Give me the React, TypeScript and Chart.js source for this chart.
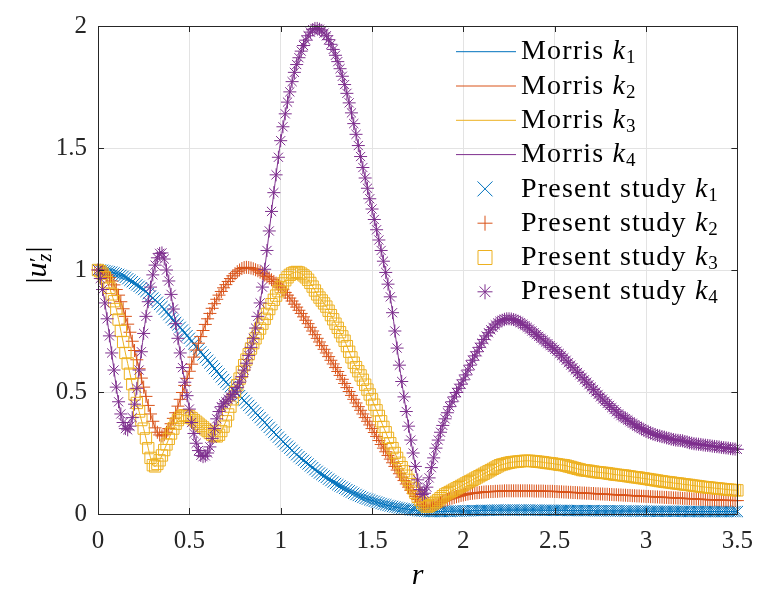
import { useEffect, useRef } from "react";
import { Chart, registerables } from "chart.js";

Chart.register(...registerables);

// radial coordinate r (step 0.0125)
const rValues = [
  0, 0.0125, 0.025, 0.0375, 0.05, 0.0625, 0.075, 0.0875, 0.1, 0.1125, 0.125, 0.1375, 0.15, 0.1625, 0.175, 0.1875, 0.2, 0.2125, 0.225, 0.2375,
  0.25, 0.2625, 0.275, 0.2875, 0.3, 0.3125, 0.325, 0.3375, 0.35, 0.3625, 0.375, 0.3875, 0.4, 0.4125, 0.425, 0.4375, 0.45, 0.4625, 0.475, 0.4875,
  0.5, 0.5125, 0.525, 0.5375, 0.55, 0.5625, 0.575, 0.5875, 0.6, 0.6125, 0.625, 0.6375, 0.65, 0.6625, 0.675, 0.6875, 0.7, 0.7125, 0.725, 0.7375,
  0.75, 0.7625, 0.775, 0.7875, 0.8, 0.8125, 0.825, 0.8375, 0.85, 0.8625, 0.875, 0.8875, 0.9, 0.9125, 0.925, 0.9375, 0.95, 0.9625, 0.975, 0.9875,
  1, 1.0125, 1.025, 1.0375, 1.05, 1.0625, 1.075, 1.0875, 1.1, 1.1125, 1.125, 1.1375, 1.15, 1.1625, 1.175, 1.1875, 1.2, 1.2125, 1.225, 1.2375,
  1.25, 1.2625, 1.275, 1.2875, 1.3, 1.3125, 1.325, 1.3375, 1.35, 1.3625, 1.375, 1.3875, 1.4, 1.4125, 1.425, 1.4375, 1.45, 1.4625, 1.475, 1.4875,
  1.5, 1.5125, 1.525, 1.5375, 1.55, 1.5625, 1.575, 1.5875, 1.6, 1.6125, 1.625, 1.6375, 1.65, 1.6625, 1.675, 1.6875, 1.7, 1.7125, 1.725, 1.7375,
  1.75, 1.7625, 1.775, 1.7875, 1.8, 1.8125, 1.825, 1.8375, 1.85, 1.8625, 1.875, 1.8875, 1.9, 1.9125, 1.925, 1.9375, 1.95, 1.9625, 1.975, 1.9875,
  2, 2.0125, 2.025, 2.0375, 2.05, 2.0625, 2.075, 2.0875, 2.1, 2.1125, 2.125, 2.1375, 2.15, 2.1625, 2.175, 2.1875, 2.2, 2.2125, 2.225, 2.2375,
  2.25, 2.2625, 2.275, 2.2875, 2.3, 2.3125, 2.325, 2.3375, 2.35, 2.3625, 2.375, 2.3875, 2.4, 2.4125, 2.425, 2.4375, 2.45, 2.4625, 2.475, 2.4875,
  2.5, 2.5125, 2.525, 2.5375, 2.55, 2.5625, 2.575, 2.5875, 2.6, 2.6125, 2.625, 2.6375, 2.65, 2.6625, 2.675, 2.6875, 2.7, 2.7125, 2.725, 2.7375,
  2.75, 2.7625, 2.775, 2.7875, 2.8, 2.8125, 2.825, 2.8375, 2.85, 2.8625, 2.875, 2.8875, 2.9, 2.9125, 2.925, 2.9375, 2.95, 2.9625, 2.975, 2.9875,
  3, 3.0125, 3.025, 3.0375, 3.05, 3.0625, 3.075, 3.0875, 3.1, 3.1125, 3.125, 3.1375, 3.15, 3.1625, 3.175, 3.1875, 3.2, 3.2125, 3.225, 3.2375,
  3.25, 3.2625, 3.275, 3.2875, 3.3, 3.3125, 3.325, 3.3375, 3.35, 3.3625, 3.375, 3.3875, 3.4, 3.4125, 3.425, 3.4375, 3.45, 3.4625, 3.475, 3.4875,
  3.5,
];

// |u'_z| for k1 (blue)
const k1 = [
  1.0, 1.0, 0.999, 0.997, 0.995, 0.993, 0.991, 0.988, 0.985, 0.982, 0.978, 0.974, 0.97, 0.964, 0.958, 0.952, 0.945, 0.939, 0.933, 0.927,
  0.92, 0.912, 0.903, 0.894, 0.885, 0.877, 0.868, 0.859, 0.85, 0.839, 0.828, 0.817, 0.805, 0.795, 0.785, 0.775, 0.765, 0.754, 0.742, 0.731,
  0.72, 0.709, 0.697, 0.686, 0.675, 0.664, 0.652, 0.641, 0.63, 0.619, 0.607, 0.596, 0.585, 0.574, 0.562, 0.551, 0.54, 0.531, 0.522, 0.513,
  0.505, 0.495, 0.485, 0.475, 0.465, 0.455, 0.445, 0.435, 0.425, 0.415, 0.405, 0.395, 0.385, 0.375, 0.365, 0.355, 0.345, 0.335, 0.325, 0.315,
  0.305,
  0.296, 0.287, 0.278, 0.27, 0.261, 0.252, 0.243, 0.235, 0.227, 0.22, 0.212, 0.205, 0.197, 0.19, 0.182, 0.175, 0.168, 0.162, 0.156, 0.15,
  0.143, 0.137, 0.131, 0.125, 0.12, 0.115, 0.11, 0.105, 0.1, 0.095, 0.09, 0.085, 0.08, 0.076, 0.072, 0.068, 0.064, 0.061, 0.058, 0.055,
  0.052, 0.049, 0.046, 0.043, 0.04, 0.038, 0.035, 0.033, 0.031, 0.029, 0.027, 0.025, 0.023, 0.022, 0.02, 0.019, 0.017, 0.016, 0.015, 0.014,
  0.013, 0.012, 0.011, 0.011, 0.01, 0.01, 0.01, 0.01, 0.01, 0.01, 0.01, 0.011, 0.011, 0.011, 0.011, 0.012, 0.012, 0.012, 0.012, 0.013,
  0.013, 0.013, 0.013, 0.014, 0.014, 0.014, 0.014, 0.015, 0.015, 0.015, 0.015, 0.015, 0.015, 0.016, 0.016, 0.016, 0.016, 0.016, 0.016, 0.016,
  0.016, 0.016, 0.016, 0.016, 0.016, 0.016, 0.016, 0.016, 0.016, 0.016, 0.016, 0.016, 0.016, 0.015, 0.015, 0.015, 0.015, 0.015, 0.015, 0.015,
  0.015, 0.015, 0.015, 0.015, 0.015, 0.014, 0.014, 0.014, 0.014, 0.014, 0.014, 0.014, 0.014, 0.014, 0.014, 0.014, 0.014, 0.013, 0.013, 0.013,
  0.013, 0.013, 0.013, 0.013, 0.013, 0.013, 0.013, 0.013, 0.012, 0.012, 0.012, 0.012, 0.012, 0.012, 0.012, 0.012, 0.012, 0.012, 0.012, 0.012,
  0.011, 0.011, 0.011, 0.011, 0.011, 0.011, 0.011, 0.011, 0.011, 0.011, 0.011, 0.011, 0.011, 0.011, 0.011, 0.011, 0.011, 0.01, 0.01, 0.01,
  0.01, 0.01, 0.01, 0.01, 0.01, 0.01, 0.01, 0.01, 0.01, 0.01, 0.01, 0.01, 0.01, 0.01, 0.01, 0.01, 0.01, 0.01, 0.01, 0.01,
];

// |u'_z| for k2 (orange)
const k2 = [
  1.0, 0.999, 0.995, 0.989, 0.98, 0.969, 0.955, 0.939, 0.92, 0.897, 0.87, 0.841, 0.81, 0.778, 0.745, 0.708, 0.67, 0.632, 0.595, 0.557,
  0.52, 0.482, 0.445, 0.41, 0.38, 0.353, 0.335, 0.324, 0.32, 0.325, 0.335, 0.35, 0.37, 0.392, 0.415, 0.442, 0.47, 0.498, 0.527, 0.556,
  0.585, 0.614, 0.643, 0.672, 0.7, 0.727, 0.752, 0.777, 0.8, 0.822, 0.843, 0.862, 0.88, 0.897, 0.912, 0.927, 0.94, 0.953, 0.965, 0.976,
  0.985, 0.993, 1.0, 1.006, 1.01, 1.011, 1.01, 1.008, 1.005, 1.001, 0.997, 0.991, 0.985, 0.979, 0.973, 0.967, 0.96, 0.953, 0.946, 0.938,
  0.93,
  0.919, 0.908, 0.897, 0.885, 0.873, 0.86, 0.848, 0.835, 0.822, 0.808, 0.794, 0.78, 0.765, 0.75, 0.735, 0.72, 0.705, 0.69, 0.675, 0.66,
  0.645, 0.63, 0.615, 0.6, 0.584, 0.568, 0.552, 0.535, 0.518, 0.502, 0.486, 0.47, 0.455, 0.44, 0.425, 0.41, 0.395, 0.38, 0.365, 0.35,
  0.334, 0.318, 0.301, 0.285, 0.27, 0.255, 0.24, 0.225, 0.21, 0.195, 0.18, 0.165, 0.151, 0.137, 0.123, 0.11, 0.097, 0.084, 0.072, 0.06,
  0.049, 0.04, 0.033, 0.03, 0.03, 0.033, 0.036, 0.04, 0.044, 0.048, 0.052, 0.055, 0.059, 0.062, 0.065, 0.068, 0.071, 0.073, 0.076, 0.078,
  0.08, 0.082, 0.084, 0.085, 0.086, 0.087, 0.088, 0.089, 0.09, 0.091, 0.091, 0.092, 0.092, 0.093, 0.093, 0.094, 0.094, 0.095, 0.095, 0.095,
  0.095, 0.095, 0.095, 0.095, 0.095, 0.095, 0.095, 0.095, 0.095, 0.095, 0.094, 0.094, 0.094, 0.094, 0.094, 0.093, 0.093, 0.093, 0.093, 0.092,
  0.092, 0.091, 0.091, 0.09, 0.09, 0.089, 0.089, 0.088, 0.088, 0.087, 0.087, 0.086, 0.086, 0.085, 0.085, 0.084, 0.084, 0.083, 0.083, 0.082,
  0.082, 0.081, 0.081, 0.08, 0.08, 0.079, 0.079, 0.078, 0.078, 0.077, 0.077, 0.076, 0.076, 0.075, 0.075, 0.074, 0.074, 0.073, 0.073, 0.072,
  0.072, 0.071, 0.071, 0.07, 0.07, 0.069, 0.069, 0.068, 0.068, 0.067, 0.067, 0.066, 0.066, 0.065, 0.065, 0.064, 0.064, 0.063, 0.063, 0.062,
  0.062, 0.061, 0.061, 0.06, 0.06, 0.059, 0.059, 0.058, 0.058, 0.058, 0.058, 0.057, 0.057, 0.056, 0.056, 0.056, 0.056, 0.055, 0.055, 0.055,
];

// |u'_z| for k3 (yellow)
const k3 = [
  1.0, 0.995, 0.985, 0.97, 0.95, 0.927, 0.9, 0.872, 0.84, 0.797, 0.75, 0.705, 0.66, 0.617, 0.575, 0.532, 0.49, 0.455, 0.42, 0.385,
  0.35, 0.31, 0.27, 0.23, 0.2, 0.195, 0.205, 0.22, 0.24, 0.262, 0.285, 0.308, 0.33, 0.35, 0.37, 0.385, 0.395, 0.402, 0.405, 0.404,
  0.4, 0.393, 0.385, 0.378, 0.37, 0.362, 0.355, 0.347, 0.34, 0.332, 0.325, 0.32, 0.318, 0.325, 0.34, 0.358, 0.38, 0.408, 0.44, 0.47,
  0.5, 0.528, 0.555, 0.582, 0.61, 0.633, 0.655, 0.678, 0.7, 0.72, 0.74, 0.76, 0.78, 0.8, 0.82, 0.84, 0.86, 0.878, 0.895, 0.913,
  0.93,
  0.945, 0.958, 0.97, 0.98, 0.986, 0.99, 0.992, 0.99, 0.985, 0.978, 0.97, 0.96, 0.947, 0.932, 0.916, 0.9, 0.887, 0.875, 0.863, 0.85,
  0.833, 0.815, 0.798, 0.78, 0.763, 0.745, 0.728, 0.71, 0.688, 0.665, 0.642, 0.62, 0.602, 0.585, 0.568, 0.55, 0.53, 0.51, 0.49, 0.47,
  0.448, 0.425, 0.402, 0.38, 0.357, 0.335, 0.312, 0.29, 0.27, 0.25, 0.23, 0.21, 0.192, 0.175, 0.157, 0.14, 0.122, 0.105, 0.087, 0.07,
  0.057, 0.045, 0.036, 0.03, 0.032, 0.038, 0.044, 0.05, 0.057, 0.065, 0.073, 0.08, 0.085, 0.09, 0.095, 0.1, 0.105, 0.11, 0.115, 0.12,
  0.125, 0.13, 0.135, 0.14, 0.145, 0.15, 0.155, 0.16, 0.165, 0.17, 0.175, 0.18, 0.185, 0.19, 0.195, 0.2, 0.203, 0.205, 0.208, 0.21,
  0.212, 0.213, 0.214, 0.215, 0.216, 0.217, 0.218, 0.218, 0.218, 0.217, 0.216, 0.215, 0.214, 0.213, 0.212, 0.21, 0.209, 0.208, 0.207, 0.205,
  0.204, 0.202, 0.201, 0.2, 0.198, 0.195, 0.193, 0.19, 0.188, 0.185, 0.183, 0.18, 0.179, 0.178, 0.177, 0.175, 0.174, 0.172, 0.171, 0.17,
  0.169, 0.168, 0.167, 0.165, 0.164, 0.162, 0.161, 0.16, 0.159, 0.158, 0.157, 0.155, 0.154, 0.152, 0.151, 0.15, 0.149, 0.147, 0.146, 0.144,
  0.143, 0.141, 0.14, 0.138, 0.137, 0.135, 0.134, 0.132, 0.131, 0.13, 0.129, 0.127, 0.126, 0.125, 0.124, 0.122, 0.121, 0.12, 0.119, 0.117,
  0.116, 0.115, 0.114, 0.112, 0.111, 0.11, 0.109, 0.108, 0.107, 0.106, 0.105, 0.104, 0.103, 0.102, 0.101, 0.1, 0.099, 0.098, 0.098, 0.097,
];

// |u'_z| for k4 (purple)
const k4 = [
  1.0, 0.965, 0.92, 0.865, 0.8, 0.73, 0.66, 0.59, 0.52, 0.46, 0.41, 0.375, 0.35, 0.345, 0.36, 0.395, 0.45, 0.515, 0.59, 0.665,
  0.74, 0.81, 0.87, 0.93, 0.98, 1.02, 1.05, 1.068, 1.07, 1.045, 1.0, 0.955, 0.9, 0.84, 0.78, 0.72, 0.66, 0.6, 0.54, 0.485,
  0.43, 0.375, 0.33, 0.29, 0.26, 0.24, 0.235, 0.238, 0.25, 0.275, 0.31, 0.35, 0.39, 0.42, 0.44, 0.452, 0.46, 0.47, 0.48, 0.49,
  0.5, 0.518, 0.54, 0.563, 0.59, 0.618, 0.65, 0.683, 0.72, 0.762, 0.81, 0.865, 0.93, 1.003, 1.08, 1.16, 1.24, 1.317, 1.39, 1.462,
  1.53,
  1.587, 1.64, 1.688, 1.73, 1.772, 1.81, 1.842, 1.87, 1.897, 1.92, 1.942, 1.96, 1.975, 1.985, 1.99, 1.99, 1.987, 1.98, 1.971, 1.96,
  1.944, 1.925, 1.904, 1.88, 1.854, 1.825, 1.794, 1.76, 1.724, 1.685, 1.644, 1.6, 1.556, 1.51, 1.465, 1.42, 1.377, 1.335, 1.292, 1.25,
  1.207, 1.165, 1.123, 1.08, 1.036, 0.99, 0.942, 0.89, 0.825, 0.75, 0.68, 0.61, 0.543, 0.48, 0.42, 0.36, 0.303, 0.25, 0.195, 0.14,
  0.1, 0.08, 0.085, 0.11, 0.148, 0.19, 0.23, 0.27, 0.303, 0.335, 0.363, 0.39, 0.415, 0.44, 0.46, 0.48, 0.498, 0.515, 0.532, 0.55,
  0.57, 0.59, 0.61, 0.63, 0.648, 0.665, 0.683, 0.7, 0.715, 0.73, 0.743, 0.755, 0.765, 0.775, 0.783, 0.79, 0.794, 0.798, 0.8, 0.8,
  0.799, 0.797, 0.794, 0.79, 0.784, 0.778, 0.772, 0.765, 0.758, 0.75, 0.743, 0.735, 0.728, 0.72, 0.713, 0.705, 0.698, 0.69, 0.683, 0.675,
  0.667, 0.658, 0.649, 0.64, 0.63, 0.62, 0.61, 0.6, 0.59, 0.58, 0.57, 0.56, 0.55, 0.54, 0.53, 0.52, 0.51, 0.5, 0.49, 0.48,
  0.471, 0.462, 0.453, 0.445, 0.436, 0.428, 0.419, 0.41, 0.403, 0.397, 0.391, 0.385, 0.378, 0.372, 0.366, 0.36, 0.355, 0.35, 0.345, 0.34,
  0.336, 0.332, 0.328, 0.325, 0.322, 0.32, 0.317, 0.315, 0.312, 0.31, 0.307, 0.305, 0.303, 0.302, 0.301, 0.3, 0.297, 0.295, 0.292, 0.29,
  0.288, 0.287, 0.286, 0.285, 0.283, 0.282, 0.281, 0.28, 0.278, 0.277, 0.276, 0.275, 0.273, 0.272, 0.271, 0.27, 0.268, 0.267, 0.266, 0.265,
];

const xTicks = [0, 0.5, 1, 1.5, 2, 2.5, 3, 3.5];
const yTicks = [0, 0.5, 1, 1.5, 2];
const subscripts = ["1", "2", "3", "4"];
const seriesValues = [k1, k2, k3, k4];
const colors = ["#0072BD", "#D95319", "#EDB120", "#7E2F8E"];
const markerStyles = ["crossRot", "cross", "rect", "star"];
const markerRadius = [8, 6.5, 8, 6.5];

const FONT = '"Liberation Serif", "Times New Roman", serif';
const AXIS_COLOR = "#262626";

function drawK(ctx: CanvasRenderingContext2D, x: number, baseline: number, prefix: string, sub: string) {
  ctx.textAlign = "left";
  ctx.textBaseline = "alphabetic";
  (ctx as any).letterSpacing = "1.2px";
  ctx.font = `28px ${FONT}`;
  ctx.fillText(prefix, x, baseline);
  x += ctx.measureText(prefix).width;
  (ctx as any).letterSpacing = "0px";
  ctx.font = `italic 28px ${FONT}`;
  ctx.fillText("k", x, baseline);
  x += ctx.measureText("k").width + 1;
  ctx.font = `19px ${FONT}`;
  ctx.fillText(sub, x, baseline + 4);
}

function drawLegendMarker(ctx: CanvasRenderingContext2D, style: string, x: number, y: number) {
  const h = 7.5;
  ctx.beginPath();
  if (style === "crossRot" || style === "star") {
    const d = style === "star" ? h * Math.SQRT1_2 : h;
    ctx.moveTo(x - d, y - d);
    ctx.lineTo(x + d, y + d);
    ctx.moveTo(x + d, y - d);
    ctx.lineTo(x - d, y + d);
  }
  if (style === "cross" || style === "star") {
    ctx.moveTo(x - h, y);
    ctx.lineTo(x + h, y);
    ctx.moveTo(x, y - h);
    ctx.lineTo(x, y + h);
  }
  if (style === "rect") {
    ctx.rect(x - 7, y - 7, 14, 14);
  }
  ctx.stroke();
}

const framePlugin = {
  id: "matlabFrame",
  afterDraw(chart: any) {
    const { ctx, chartArea: a, scales } = chart;
    const xs = scales.x;
    const ys = scales.y;
    ctx.save();
    ctx.strokeStyle = AXIS_COLOR;
    ctx.lineWidth = 1;
    ctx.beginPath();
    ctx.rect(Math.round(a.left) + 0.5, Math.round(a.top) + 0.5, Math.round(a.right - a.left), Math.round(a.bottom - a.top));
    ctx.stroke();
    const tl = 6;
    ctx.beginPath();
    for (const v of xTicks) {
      const px = Math.round(xs.getPixelForValue(v)) + 0.5;
      ctx.moveTo(px, a.bottom);
      ctx.lineTo(px, a.bottom - tl);
      ctx.moveTo(px, a.top);
      ctx.lineTo(px, a.top + tl);
    }
    for (const v of yTicks) {
      const py = Math.round(ys.getPixelForValue(v)) + 0.5;
      ctx.moveTo(a.left, py);
      ctx.lineTo(a.left + tl, py);
      ctx.moveTo(a.right, py);
      ctx.lineTo(a.right - tl, py);
    }
    ctx.stroke();

    // Legend (no box, MATLAB style)
    const rowY0 = 51.7;
    const rowStep = 34.3;
    const lineX0 = 456;
    const lineX1 = 516;
    const textX = 521;
    for (let i = 0; i < 4; i++) {
      const y = rowY0 + i * rowStep;
      ctx.strokeStyle = colors[i];
      ctx.lineWidth = 1;
      ctx.beginPath();
      ctx.moveTo(lineX0, y);
      ctx.lineTo(lineX1, y);
      ctx.stroke();
      ctx.fillStyle = "#000000";
      drawK(ctx, textX, y + 7.6, "Morris ", subscripts[i]);
    }
    for (let i = 0; i < 4; i++) {
      const y = rowY0 + (i + 4) * rowStep;
      ctx.strokeStyle = colors[i];
      ctx.lineWidth = 1;
      drawLegendMarker(ctx, markerStyles[i], 485, y);
      ctx.fillStyle = "#000000";
      drawK(ctx, textX, y + 7.6, "Present study ", subscripts[i]);
    }

    // x title
    ctx.fillStyle = "#000000";
    ctx.font = `italic 30px ${FONT}`;
    ctx.textAlign = "center";
    ctx.textBaseline = "alphabetic";
    ctx.fillText("r", (a.left + a.right) / 2, 584);

    // y title |u'_z|
    ctx.save();
    ctx.translate(36, 265);
    ctx.rotate(-Math.PI / 2);
    ctx.textAlign = "left";
    ctx.font = `30px ${FONT}`;
    const wBar = ctx.measureText("|").width;
    ctx.font = `italic 30px ${FONT}`;
    const wU = ctx.measureText("u").width;
    ctx.font = `italic 20px ${FONT}`;
    const wZ = ctx.measureText("z").width;
    const total = wBar * 2 + wU + wZ + 2;
    let cx = -total / 2;
    const base = 10;
    ctx.font = `30px ${FONT}`;
    ctx.fillText("|", cx, base);
    cx += wBar;
    ctx.font = `italic 30px ${FONT}`;
    ctx.fillText("u", cx, base);
    cx += wU;
    ctx.font = `22px ${FONT}`;
    ctx.fillText("\u2032", cx + 0.5, base - 2);
    ctx.font = `italic 20px ${FONT}`;
    ctx.fillText("z", cx + 1, base + 5);
    cx += wZ + 2;
    ctx.font = `30px ${FONT}`;
    ctx.fillText("|", cx, base);
    ctx.restore();
    ctx.restore();
  },
};

export default function App() {
  const ref = useRef<HTMLCanvasElement | null>(null);
  useEffect(() => {
    if (!ref.current) return;
    const lineSets = seriesValues.map((vals, i) => ({
      label: `Morris k${subscripts[i]}`,
      data: rValues.map((r, j) => ({ x: r, y: vals[j] })),
      showLine: true,
      borderColor: colors[i],
      borderWidth: 1,
      pointRadius: 0,
      cubicInterpolationMode: "monotone" as const,
      order: 8 - i,
    }));
    const markerSets = seriesValues.map((vals, i) => ({
      label: `Present study k${subscripts[i]}`,
      data: rValues.map((r, j) => ({ x: r, y: vals[j] })),
      showLine: false,
      pointStyle: markerStyles[i],
      pointRadius: markerRadius[i],
      pointBorderColor: colors[i],
      pointBackgroundColor: "rgba(0,0,0,0)",
      pointBorderWidth: 1,
      clip: false as const,
      order: 4 - i,
    }));
    const chart = new Chart(ref.current, {
      type: "scatter",
      data: { datasets: [...lineSets, ...markerSets] as any },
      options: {
        responsive: false,
        animation: false,
        events: [],
        layout: { padding: { top: 17, right: 19, left: 0, bottom: 0 } },
        plugins: { legend: { display: false }, tooltip: { enabled: false } },
        scales: {
          x: {
            type: "linear",
            min: 0,
            max: 3.5,
            afterBuildTicks: (s: any) => {
              s.ticks = xTicks.map((v) => ({ value: v }));
            },
            afterFit: (s: any) => {
              s.height = 80;
            },
            grid: { color: "#e3e3e3", drawTicks: false, lineWidth: 1 },
            border: { display: false },
            ticks: {
              autoSkip: false,
              maxRotation: 0,
              padding: 12,
              color: AXIS_COLOR,
              font: { family: FONT, size: 25 },
              callback: (v: any) => String(v),
            },
          },
          y: {
            type: "linear",
            min: 0,
            max: 2,
            afterBuildTicks: (s: any) => {
              s.ticks = yTicks.map((v) => ({ value: v }));
            },
            afterFit: (s: any) => {
              s.width = 98;
            },
            grid: { color: "#e3e3e3", drawTicks: false, lineWidth: 1 },
            border: { display: false },
            ticks: {
              autoSkip: false,
              padding: 11,
              color: AXIS_COLOR,
              font: { family: FONT, size: 25 },
              callback: (v: any) => String(v),
            },
          },
        },
      },
      plugins: [framePlugin],
    });
    return () => chart.destroy();
  }, []);
  return (
    <div style={{ position: "absolute", left: 0, top: 0, width: 765, height: 594, background: "#ffffff" }}>
      <canvas ref={ref} width={765} height={594} />
    </div>
  );
}
